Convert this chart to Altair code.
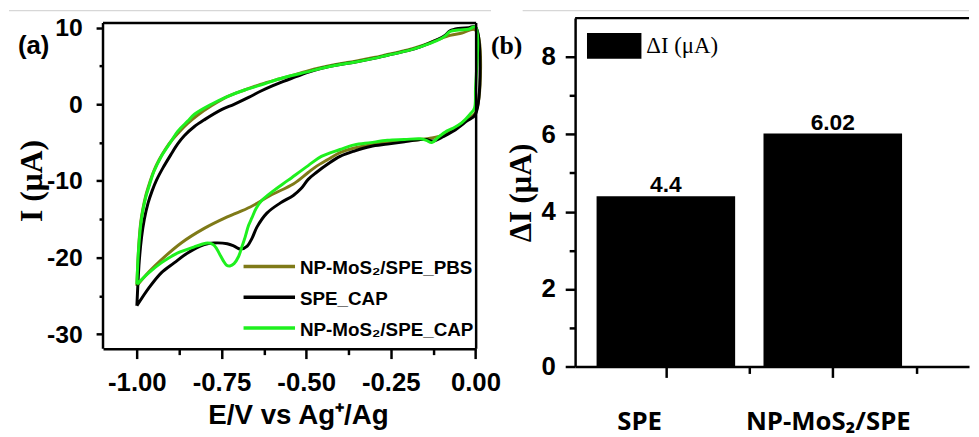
import altair as alt
import pandas as pd

# ---------------- Panel (a): cyclic voltammograms (forward branch, then reverse branch)
series_names = ["NP-MoS₂/SPE_PBS", "SPE_CAP", "NP-MoS₂/SPE_CAP"]
series_colors = ["#7f7a18", "#000000", "#1ef01e"]

pbs_E = [-1.000, -0.997, -0.993, -0.988, -0.982, -0.973, -0.962, -0.950, -0.935, -0.915,
         -0.895, -0.875, -0.850, -0.820, -0.780, -0.733, -0.680, -0.635, -0.580, -0.538,
         -0.500, -0.455, -0.400, -0.358, -0.300, -0.260, -0.200, -0.163, -0.114, -0.075,
         -0.040, 0.000,
         0.000, -0.026, -0.065, -0.094, -0.130, -0.163, -0.210, -0.260, -0.310, -0.358,
         -0.400, -0.436, -0.470, -0.494, -0.538, -0.606, -0.665, -0.733, -0.801, -0.869,
         -0.928, -0.965, -1.000]
pbs_I = [-23.7, -20.5, -17.5, -15.2, -13.6, -11.8, -10.2, -8.7, -7.3, -5.8,
         -4.6, -3.6, -2.5, -1.4, -0.2, 1.0, 1.9, 2.6, 3.3, 3.8,
         4.3, 4.8, 5.3, 5.6, 6.1, 6.5, 7.1, 7.6, 8.4, 9.0,
         9.3, 9.7,
         -1.1, -2.0, -3.3, -4.0, -4.4, -4.6, -4.8, -5.0, -5.3, -5.7,
         -6.3, -7.2, -8.1, -8.9, -10.4, -11.9, -13.4, -14.7, -16.2, -18.1,
         -20.3, -21.9, -23.7]

spe_E = [-1.000, -0.997, -0.993, -0.986, -0.978, -0.967, -0.955, -0.942, -0.923, -0.900,
         -0.880, -0.860, -0.830, -0.800, -0.750, -0.713, -0.670, -0.635, -0.600, -0.567,
         -0.530, -0.500, -0.455, -0.400, -0.358, -0.300, -0.260, -0.200, -0.163, -0.114,
         -0.090, -0.075, -0.050, -0.020, 0.000,
         0.000, -0.026, -0.065, -0.094, -0.124, -0.145, -0.163, -0.210, -0.260, -0.310,
         -0.358, -0.400, -0.436, -0.470, -0.494, -0.515, -0.538, -0.577, -0.616, -0.645,
         -0.660, -0.674, -0.694, -0.713, -0.733, -0.772, -0.801, -0.850, -0.890, -0.928,
         -0.965, -1.000]
spe_I = [-26.3, -23.5, -20.5, -17.3, -15.0, -12.9, -11.3, -9.9, -8.3, -6.6,
         -5.2, -4.1, -2.9, -2.0, -0.7, 0.0, 0.9, 1.7, 2.4, 3.0,
         3.6, 4.1, 4.7, 5.2, 5.5, 6.0, 6.4, 7.0, 7.5, 8.4,
         9.0, 9.6, 9.9, 10.0, 10.1,
         -1.3, -2.2, -3.5, -4.2, -4.8, -4.6, -4.6, -4.9, -5.2, -5.5,
         -6.1, -6.8, -7.8, -8.9, -9.8, -11.0, -11.9, -12.9, -14.2, -16.0,
         -17.5, -18.5, -18.9, -18.5, -18.2, -18.1, -18.3, -19.4, -20.7, -22.0,
         -24.0, -26.3]

mos_E = [-1.000, -0.997, -0.993, -0.988, -0.982, -0.973, -0.962, -0.950, -0.928, -0.900,
         -0.879, -0.850, -0.830, -0.780, -0.733, -0.680, -0.635, -0.580, -0.538, -0.500,
         -0.455, -0.400, -0.358, -0.300, -0.260, -0.200, -0.163, -0.114, -0.090, -0.075,
         -0.050, -0.020, 0.000,
         0.000, -0.003, -0.016, -0.040, -0.065, -0.085, -0.110, -0.129, -0.145, -0.163,
         -0.210, -0.260, -0.310, -0.358, -0.400, -0.455, -0.494, -0.553, -0.600, -0.630,
         -0.648, -0.660, -0.670, -0.680, -0.689, -0.700, -0.713, -0.725, -0.735, -0.745,
         -0.755, -0.765, -0.775, -0.790, -0.810, -0.830, -0.879, -0.928, -0.965, -1.000]
mos_I = [-23.5, -20.5, -17.8, -15.5, -13.8, -12.0, -10.4, -8.8, -6.8, -4.9,
         -3.5, -2.2, -1.3, 0.0, 1.0, 1.9, 2.5, 3.3, 3.8, 4.2,
         4.7, 5.2, 5.5, 6.0, 6.4, 7.0, 7.5, 8.3, 8.9, 9.5,
         9.7, 9.8, 10.1,
         1.9, -0.5, -1.3, -2.4, -3.1, -3.5, -4.3, -5.0, -4.7, -4.5,
         -4.6, -4.7, -5.0, -5.3, -5.9, -6.8, -8.0, -9.9, -11.4, -12.5,
         -13.6, -14.8, -15.8, -17.3, -18.5, -19.9, -20.8, -21.1, -21.0, -20.4,
         -19.6, -18.8, -18.3, -18.1, -18.3, -18.6, -19.4, -20.7, -22.0, -23.5]

x_ticks_a = [-1.0, -0.875, -0.75, -0.625, -0.5, -0.375, -0.25, -0.125, 0.0]
y_ticks_a = [-30, -25, -20, -15, -10, -5, 0, 5, 10]

# ---------------- Panel (b): bar chart
bar_categories = ["SPE", "NP-MoS₂/SPE"]
bar_positions = [1, 2]
bar_values = [4.4, 6.02]
bar_value_labels = ["4.4", "6.02"]
x_ticks_b = [1, 1.5, 2, 2.5]
y_ticks_b = [0, 1, 2, 3, 4, 5, 6, 7, 8]

MINUS = "\u2212"
SANS = "Liberation Sans"
SERIF = "Liberation Serif"


def cond(test, a, b):
    return {"condition": {"test": test, "value": a}, "value": b}


def rule(x, x2, y, y2, color="black", width=2.5):
    return alt.Chart(pd.DataFrame({"t": [0]})).mark_rule(color=color, strokeWidth=width).encode(
        x=alt.value(x), x2=alt.value(x2), y=alt.value(y), y2=alt.value(y2))


# ---------------- panel (a)
WA, HA = 377, 334
TOP_A = 5  # frame top is 5px below the group top
xa_major = "abs(datum.value*4 - round(datum.value*4)) < 0.001"
ya_major = "datum.value % 10 == 0"

axis_xa = alt.Axis(
    values=x_ticks_a, format=".2f",
    labelExpr=f"{xa_major} ? replace(datum.label, '{MINUS}', '-') : ''",
    tickSize=cond(xa_major, 10, 6), tickWidth=2.5, tickColor="black",
    domainColor="black", domainWidth=2.5, grid=False,
    labelFont=SANS, labelFontWeight="bold", labelFontSize=26, labelColor="black",
    labelPadding=11, labelFlush=False, labelOverlap=False,
    title="E/V vs Ag⁺/Ag", titleFont=SANS, titleFontWeight="bold", titleFontSize=28,
    titleColor="black", titleX=197, titleY=68, titleAlign="center", titleBaseline="middle",
)
axis_ya = alt.Axis(
    values=y_ticks_a,
    labelExpr=f"{ya_major} ? replace(datum.label, '{MINUS}', '-') : ''",
    tickSize=cond(ya_major, 7, 4), tickWidth=2.5, tickColor="black",
    domain=False, grid=False,
    labelFont=SANS, labelFontWeight="bold", labelFontSize=25, labelColor="black",
    labelPadding=14, labelOverlap=False, labelFlush=False,
    title="I (μA)", titleFont=SERIF, titleFontWeight="bold", titleFontSize=32,
    titleColor="black", titleAngle=270, titleX=-72, titleY=164,
    titleAlign="center", titleBaseline="middle",
)
xs_a = alt.Scale(domain=[-1.1, 0.002], nice=False, zero=False)
ys_a = alt.Scale(domain=[-31.9, 11.25], nice=False, zero=False)

curve_layers = []
for name, color, E, I in zip(series_names, series_colors,
                             [pbs_E, spe_E, mos_E], [pbs_I, spe_I, mos_I]):
    df = pd.DataFrame({"E": E, "I": I})
    df["k"] = range(len(df))
    curve_layers.append(
        alt.Chart(df).mark_line(strokeWidth=3, interpolate="catmull-rom", color=color)
        .encode(x=alt.X("E:Q", scale=xs_a, axis=axis_xa),
                y=alt.Y("I:Q", scale=ys_a, axis=axis_ya),
                order="k:Q")
    )

legend_layers = []
for i, (name, color) in enumerate(zip(series_names, series_colors)):
    ly = 251 + 31 * i
    legend_layers.append(rule(142, 194, ly, ly, color=color, width=3.5))
    legend_layers.append(
        alt.Chart(pd.DataFrame({"t": [name]})).mark_text(
            align="left", baseline="middle", font=SANS, fontWeight="bold",
            fontSize=19, color="black", dy=2)
        .encode(x=alt.value(199), y=alt.value(ly), text="t:N")
    )

label_a = alt.Chart(pd.DataFrame({"t": ["(a)"]})).mark_text(
    align="left", baseline="middle", font=SANS, fontWeight="bold", fontSize=26, color="black"
).encode(x=alt.value(-86), y=alt.value(28), text="t:N")

frame_a = [
    rule(0, 0, TOP_A, HA),          # left
    rule(0, WA, TOP_A, TOP_A),      # top
    rule(WA, WA, TOP_A, HA),        # right
]
sep_a = rule(-95, 392, -7.5, -7.5, color="#cccccc", width=1)

panel_a = alt.layer(*curve_layers, *legend_layers, *frame_a, label_a, sep_a).properties(
    width=WA, height=HA)

# ---------------- panel (b)
WB, HB = 398, 352
px_per_unit = 173.0
xb0 = 0.486
xs_b = alt.Scale(domain=[xb0, xb0 + WB / px_per_unit], nice=False, zero=False)
ys_b = alt.Scale(domain=[0, 9], nice=False, zero=False)

xb_major = "datum.value % 1 == 0"
yb_major = "datum.value % 2 == 0"
label_expr_b = " : ".join(
    [f"datum.value == {p} ? '{c}'" for p, c in zip(bar_positions, bar_categories)]) + " : ''"

axis_xb = alt.Axis(
    values=x_ticks_b, labelExpr=label_expr_b,
    tickSize=cond(xb_major, 11, 7), tickWidth=2.5, tickColor="black",
    domainColor="black", domainWidth=2.5, grid=False,
    labelFont="Open Sans", labelFontWeight="bold", labelFontSize=26, labelColor="black",
    labelPadding=32, labelFlush=False, labelOverlap=False,
    labelOffset=cond("datum.value == 1", -27, -5),
    title="",
)
axis_yb = alt.Axis(
    values=y_ticks_b,
    labelExpr=f"{yb_major} ? datum.label : ''",
    tickSize=cond(yb_major, 10, 6), tickWidth=2.5, tickColor="black",
    domainColor="black", domainWidth=2.5, grid=False,
    labelFont=SANS, labelFontWeight="bold", labelFontSize=26, labelColor="black",
    labelPadding=10, labelOverlap=False, labelFlush=False,
    title="ΔI (μA)", titleFont=SERIF, titleFontWeight="bold", titleFontSize=31,
    titleColor="black", titleAngle=270, titleX=-54, titleY=176,
    titleAlign="center", titleBaseline="middle",
)

df_b = pd.DataFrame({"pos": bar_positions, "val": bar_values,
                     "lab": bar_value_labels, "cat": bar_categories})

bars = alt.Chart(df_b).mark_bar(size=140, color="black").encode(
    x=alt.X("pos:Q", scale=xs_b, axis=axis_xb),
    y=alt.Y("val:Q", scale=ys_b, axis=axis_yb),
)
bar_text = alt.Chart(df_b).mark_text(
    baseline="alphabetic", align="center", dy=-4, font=SANS, fontWeight="bold",
    fontSize=23, color="black"
).encode(x=alt.X("pos:Q", scale=xs_b), y=alt.Y("val:Q", scale=ys_b), text="lab:N")

leg_rect = alt.Chart(pd.DataFrame({"t": [0]})).mark_rect(color="black").encode(
    x=alt.value(12), x2=alt.value(67), y=alt.value(15), y2=alt.value(41))
leg_text = alt.Chart(pd.DataFrame({"t": ["ΔI (μA)"]})).mark_text(
    align="left", baseline="middle", font=SERIF, fontSize=23, color="black"
).encode(x=alt.value(72), y=alt.value(28), text="t:N")

label_b = alt.Chart(pd.DataFrame({"t": ["(b)"]})).mark_text(
    align="left", baseline="middle", font=SERIF, fontWeight="bold", fontSize=26, color="black"
).encode(x=alt.value(-85), y=alt.value(28), text="t:N")

top_b = rule(0, WB, 0, 0)
sep_b = rule(-53, WB, -7.5, -7.5, color="#cccccc", width=1)

panel_b = alt.layer(bars, bar_text, leg_rect, leg_text, label_b, top_b, sep_b).properties(
    width=WB, height=HB)

chart = alt.hconcat(panel_a, panel_b, spacing=100, bounds="flush").properties(
    padding=0, background="white"
).configure_view(strokeWidth=0)

chart.save("out.html", embed_options={"renderer": "svg", "actions": False})
